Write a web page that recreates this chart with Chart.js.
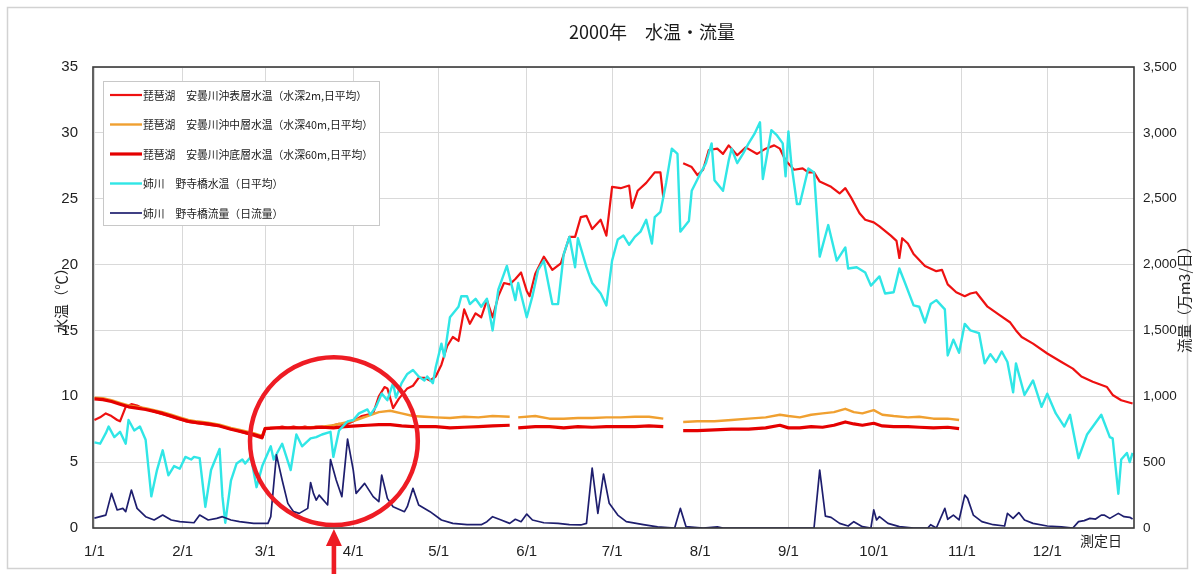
<!DOCTYPE html>
<html><head><meta charset="utf-8">
<script src="https://cdn.jsdelivr.net/npm/chart.js@4.4.1/dist/chart.umd.min.js"></script>
<style>html,body{margin:0;padding:0;background:#fff;}#wrap{width:1195px;height:574px;}</style>
</head><body><div id="wrap"><canvas id="c" width="1195" height="574"></canvas></div>
<script>
const chartTitle = '2000年　水温・流量';
const xAxisTitle = '測定日';
const leftAxisTitle = '水温（℃）';
const rightAxisTitle = '流量（万m3/日）';
const monthDays = [0,31,60,91,121,152,182,213,244,274,305,335];
const monthLabels = ['1/1','2/1','3/1','4/1','5/1','6/1','7/1','8/1','9/1','10/1','11/1','12/1'];
const seriesNames = [
  '琵琶湖　安曇川沖表層水温（水深2m,日平均）',
  '琵琶湖　安曇川沖中層水温（水深40m,日平均）',
  '琵琶湖　安曇川沖底層水温（水深60m,日平均）',
  '姉川　野寺橋水温（日平均）',
  '姉川　野寺橋流量（日流量）'
];

// surface (2m) water temperature
const surfDays = [0,2,4,6,8,9,11,13,15,17,20,23,26,29,32,35,38,41,44,47,50,53,56,59,60,62,64,66,68,70,72,74,76,78,80,82,84,86,88,91,94,98,100,102,103,105,107,110,112,114,116,118,120,122,124,126,128,130,132,134,136,138,140,142,144,146,148,150,152,153,155,158,161,164,167,169,171,173,175,178,180,182,185,188,189,191,194,197,199,200,203,207,210,212,214,216,219,221,223,226,229,233,236,239,241,243,246,249,251,253,255,259,262,264,266,269,271,274,276,280,282,283,284,286,288,292,296,298,300,303,306,308,310,314,318,322,324,326,330,335,340,344,347,351,356,358,361,365];
const surfTemp = [8.2,8.4,8.7,8.5,8.2,8.1,9.2,9.4,9.3,9.1,8.9,8.7,8.5,8.3,8.1,8.0,7.9,7.8,7.75,7.55,7.4,7.2,7.0,6.8,7.5,7.6,7.6,7.7,7.6,7.7,7.6,7.7,7.6,7.7,7.7,7.6,7.8,7.9,7.8,8.1,8.5,8.7,10.0,10.7,10.6,9.1,9.8,10.6,10.8,11.4,11.4,11.2,11.5,12.4,13.8,14.5,14.2,16.6,15.5,16.3,16.0,17.3,16.0,17.6,18.6,18.5,18.9,19.4,18.0,17.6,19.3,20.6,19.6,20.1,22.1,22.1,23.6,23.7,22.7,23.4,22.2,25.9,25.8,26.0,24.3,25.6,26.2,27.0,27.0,25.1,null,27.7,27.4,26.8,27.2,28.7,28.8,28.4,29.05,28.3,28.9,28.4,28.8,29.05,28.8,27.9,27.2,27.3,27.0,27.0,26.3,25.9,25.4,25.8,25.1,23.9,23.4,23.2,22.9,22.2,21.8,20.5,22.0,21.6,20.8,19.9,19.5,19.6,18.5,17.9,17.6,17.8,17.9,16.8,16.2,15.6,15.0,14.5,14.0,13.25,12.6,12.1,11.5,11.1,10.7,10.1,9.7,9.45];

// middle (40m) and bottom (60m) water temperature
const deepDays = [0,3,6,9,12,15,18,21,24,27,30,33,36,40,44,48,52,56,59,60,64,68,72,76,80,84,88,92,96,100,104,108,112,116,120,125,130,135,140,146,147,149,155,160,165,170,175,180,185,190,195,200,203,207,212,218,224,230,236,241,244,248,252,256,260,264,267,270,274,277,281,286,290,295,300,304];
const midTemp = [9.9,9.85,9.7,9.5,9.3,9.2,9.1,8.95,8.8,8.6,8.4,8.2,8.1,8.0,7.85,7.6,7.4,7.2,7.0,7.6,7.6,7.6,7.6,7.65,7.7,7.8,8.0,8.2,8.5,8.8,8.9,8.7,8.5,8.45,8.4,8.35,8.45,8.4,8.5,8.45,null,8.4,8.5,8.3,8.3,8.35,8.35,8.4,8.4,8.45,8.45,8.3,null,8.05,8.1,8.1,8.2,8.3,8.4,8.6,8.5,8.4,8.6,8.7,8.8,9.05,8.8,8.7,8.95,8.6,8.5,8.4,8.45,8.3,8.3,8.2];
const botTemp = [9.8,9.75,9.6,9.4,9.2,9.1,9.0,8.85,8.7,8.5,8.3,8.1,8.0,7.9,7.75,7.5,7.3,7.1,6.9,7.55,7.6,7.6,7.6,7.6,7.65,7.6,7.7,7.75,7.8,7.85,7.85,7.75,7.7,7.7,7.7,7.6,7.65,7.7,7.75,7.8,null,7.6,7.7,7.7,7.6,7.7,7.65,7.7,7.7,7.7,7.75,7.7,null,7.4,7.4,7.45,7.5,7.5,7.6,7.8,7.6,7.6,7.7,7.65,7.8,8.05,7.9,7.8,7.95,7.75,7.7,7.7,7.65,7.6,7.65,7.55];

// river water temperature
const riverDays = [0,2,4,5,7,9,11,12,14,16,18,20,22,24,26,28,30,32,34,35,37,39,41,44,45,46,48,50,52,53,55,57,59,62,63,66,69,71,73,76,78,80,83,84,86,89,91,93,96,97,99,101,103,105,106,108,110,112,114,116,117,119,120,122,123,125,128,129,131,132,134,136,138,140,142,145,148,149,152,154,156,158,161,163,165,167,169,170,173,175,178,180,182,184,186,188,190,192,194,196,197,199,200,201,203,205,206,209,210,213,215,217,218,221,223,224,226,228,230,232,234,235,238,240,242,243,244,245,247,248,250,251,253,255,258,261,264,265,268,271,273,276,278,281,283,285,288,290,292,294,296,299,300,302,304,306,308,311,313,315,317,319,321,323,324,327,330,333,335,338,341,343,346,349,353,354,357,358,360,361,363,364,365];
const riverTemp = [6.5,6.4,7.2,7.7,6.9,7.3,6.4,8.2,7.4,7.7,6.7,2.4,4.4,5.9,4.0,4.7,4.5,5.4,5.2,5.4,5.3,1.6,4.4,6.0,2.4,0.4,3.6,4.9,5.2,4.9,5.4,3.1,4.7,6.2,5.2,6.4,4.4,7.1,6.2,6.8,6.9,7.1,7.3,5.4,7.4,8.1,8.2,8.7,9.0,8.6,9.2,10.2,9.7,11.0,9.9,11.0,11.7,12.0,11.5,11.2,11.5,11.0,12.2,14.0,13.0,16.0,16.8,17.6,17.6,17.0,17.4,16.8,17.4,15.0,18.1,19.9,17.3,18.6,16.0,17.6,19.6,20.3,17.0,17.0,20.8,22.1,19.8,22.0,19.8,18.6,17.8,16.9,20.3,21.9,22.2,21.5,22.1,22.5,23.4,21.6,23.6,24.0,25.1,26.2,28.8,28.4,22.5,23.3,25.6,26.9,27.7,29.2,26.4,25.6,27.9,28.8,27.7,28.4,29.2,29.9,30.8,26.5,30.2,29.8,29.2,26.7,30.1,27.7,24.6,24.6,26.4,27.3,27.0,20.6,23.0,20.3,21.3,19.7,19.8,19.4,18.4,19.1,17.8,17.9,19.7,18.6,16.9,16.8,15.6,17.0,17.3,16.6,13.1,14.3,13.3,15.5,15.0,14.8,12.5,13.2,12.6,13.4,12.6,10.3,12.5,10.1,11.2,9.2,10.2,8.7,7.7,8.6,5.3,7.1,8.3,8.6,6.9,6.8,2.6,5.2,5.7,5.0,5.7];

// river daily flow (10^4 m3/day)
const flowDays = [0,2,4,6,8,10,11,13,15,18,21,24,27,30,35,37,40,43,45,48,51,56,61,62,64,66,68,70,72,75,76,77,78,79,82,83,85,87,89,91,92,95,98,100,101,103,105,109,110,112,114,118,122,126,131,136,138,140,143,146,148,150,152,154,158,163,167,171,173,175,177,179,181,184,187,193,198,204,206,208,214,219,221,253,255,257,259,262,265,267,270,273,274,275,276,279,283,288,293,294,296,299,300,302,304,306,307,309,312,316,320,321,323,325,327,330,335,340,344,346,348,350,352,354,355,357,360,362,364,365];
const flowVals = [75,86,98,263,137,149,124,288,149,86,61,98,61,48,40,98,61,73,86,61,48,35,35,86,555,364,187,124,111,149,345,263,212,250,175,520,364,238,675,440,263,339,238,200,402,225,162,124,162,301,175,124,61,35,25,25,48,86,61,35,66,48,106,61,40,35,25,23,35,455,111,410,187,98,48,25,8,0,149,10,0,8,0,0,440,90,81,35,15,48,10,0,137,61,86,35,10,0,0,25,0,149,66,98,61,250,225,98,48,25,15,111,73,117,61,35,15,8,0,48,56,73,68,98,98,73,111,86,81,68];

// annotation (red circle + arrow), in data units
const markDay = 84.2, markTemp = 6.6, markRadiusDays = 29.5;

function pts(days, vals){ return days.map((d,i)=>({x:d, y:vals[i]})); }

const JP = '"Noto Sans CJK JP", "Noto Sans", sans-serif';
const LAT = '"Liberation Sans", Arial, sans-serif';

const decor = {
  id: 'decor',
  beforeDraw(chart){
    const ctx = chart.ctx;
    ctx.save();
    ctx.fillStyle = '#ffffff';
    ctx.fillRect(0,0,chart.width,chart.height);
    ctx.strokeStyle = '#d2d2d2';
    ctx.lineWidth = 1.5;
    ctx.strokeRect(7.5,7.5,chart.width-15,chart.height-13);
    ctx.restore();
  },
  afterDraw(chart){
    const {ctx, chartArea:a, scales} = chart;
    ctx.save();
    // plot frame
    ctx.strokeStyle = '#3a3a3a';
    ctx.lineWidth = 1.6;
    ctx.strokeRect(a.left, a.top, a.right-a.left, a.bottom-a.top);
    // title
    ctx.fillStyle = '#1a1a1a';
    ctx.font = '18px ' + JP;
    ctx.textAlign = 'center';
    ctx.textBaseline = 'middle';
    ctx.fillText(chartTitle, 652, 32);
    // x axis title
    ctx.font = '14px ' + JP;
    ctx.fillStyle = '#222';
    ctx.fillText(xAxisTitle, 1101, 541);
    // y axis titles
    ctx.font = '14.5px ' + JP;
    ctx.save();
    ctx.translate(61, 297);
    ctx.rotate(-Math.PI/2);
    ctx.fillText(leftAxisTitle, 0, 0);
    ctx.restore();
    ctx.save();
    ctx.translate(1184, 296);
    ctx.rotate(-Math.PI/2);
    ctx.fillText(rightAxisTitle, 0, 0);
    ctx.restore();
    // legend
    const lx = 103.5, ly = 81.5, lw = 276, lh = 144;
    ctx.fillStyle = '#ffffff';
    ctx.fillRect(lx, ly, lw, lh);
    ctx.strokeStyle = '#c8c8c8';
    ctx.lineWidth = 1;
    ctx.strokeRect(lx, ly, lw, lh);
    ctx.font = '10.8px ' + JP;
    ctx.textAlign = 'left';
    ctx.textBaseline = 'middle';
    chart.data.datasets.forEach((ds, i) => {
      const y = 95 + i*29.5;
      ctx.strokeStyle = ds.borderColor;
      ctx.lineWidth = ds.borderWidth;
      ctx.beginPath(); ctx.moveTo(110, y); ctx.lineTo(142, y); ctx.stroke();
      ctx.fillStyle = '#1a1a1a';
      ctx.fillText(ds.label, 143, y + 0.5);
    });
    // annotation circle
    const xs = scales.x, ys = scales.y;
    const cx = xs.getPixelForValue(markDay), cy = ys.getPixelForValue(markTemp);
    const r = xs.getPixelForValue(markDay + markRadiusDays) - cx;
    ctx.strokeStyle = '#ee1c24';
    ctx.lineWidth = 4.5;
    ctx.beginPath(); ctx.arc(cx, cy, r, 0, Math.PI*2); ctx.stroke();
    // arrow
    const tipY = a.bottom + 1;
    ctx.fillStyle = '#ee1c24';
    ctx.beginPath();
    ctx.moveTo(cx, tipY);
    ctx.lineTo(cx - 8, tipY + 17);
    ctx.lineTo(cx + 8, tipY + 17);
    ctx.closePath(); ctx.fill();
    ctx.fillRect(cx - 2.3, tipY + 15, 4.6, chart.height - tipY - 15);
    ctx.restore();
  }
};

const gridColor = '#d9d9d9';

new Chart(document.getElementById('c'), {
  type: 'line',
  data: {
    datasets: [
      { label: seriesNames[0], data: pts(surfDays, surfTemp), borderColor: '#ee1111', borderWidth: 2.2, yAxisID: 'y', order: 4 },
      { label: seriesNames[1], data: pts(deepDays, midTemp), borderColor: '#f0a030', borderWidth: 2.4, yAxisID: 'y', order: 3 },
      { label: seriesNames[2], data: pts(deepDays, botTemp), borderColor: '#e40000', borderWidth: 3.2, yAxisID: 'y', order: 2 },
      { label: seriesNames[3], data: pts(riverDays, riverTemp), borderColor: '#30e6e6', borderWidth: 2.4, yAxisID: 'y', order: 1 },
      { label: seriesNames[4], data: pts(flowDays, flowVals), borderColor: '#1e1e6e', borderWidth: 1.7, yAxisID: 'y2', order: 0 }
    ]
  },
  options: {
    responsive: false,
    animation: false,
    devicePixelRatio: 1,
    layout: { padding: { top: 67, left: 0, right: 0, bottom: 0 } },
    elements: { point: { radius: 0 }, line: { tension: 0, fill: false, borderJoinStyle: 'round' } },
    spanGaps: false,
    plugins: { legend: { display: false }, title: { display: false }, tooltip: { enabled: false } },
    scales: {
      x: {
        type: 'linear', min: -0.5, max: 365.5,
        afterBuildTicks: (s) => { s.ticks = monthDays.map(v => ({ value: v })); },
        afterFit: (s) => { s.height = 46; },
        ticks: {
          autoSkip: false, maxRotation: 0, padding: 15,
          color: '#222', font: { family: LAT, size: 15 },
          callback: (v) => { const i = monthDays.indexOf(v); return i >= 0 ? monthLabels[i] : ''; }
        },
        grid: { color: gridColor, lineWidth: 1, drawTicks: false },
        border: { display: false }
      },
      y: {
        position: 'left', min: 0, max: 35,
        afterFit: (s) => { s.width = 93; },
        ticks: { stepSize: 5, padding: 15, color: '#222', font: { family: LAT, size: 15 } },
        grid: { color: gridColor, lineWidth: 1, drawTicks: false },
        border: { display: false }
      },
      y2: {
        position: 'right', min: 0, max: 3500,
        afterFit: (s) => { s.width = 61; },
        ticks: { stepSize: 500, padding: 9, color: '#222', font: { family: LAT, size: 13.5 },
          callback: (v) => v.toLocaleString('en-US') },
        grid: { display: false, drawTicks: false },
        border: { display: false }
      }
    }
  },
  plugins: [decor]
});
</script>
</body></html>
